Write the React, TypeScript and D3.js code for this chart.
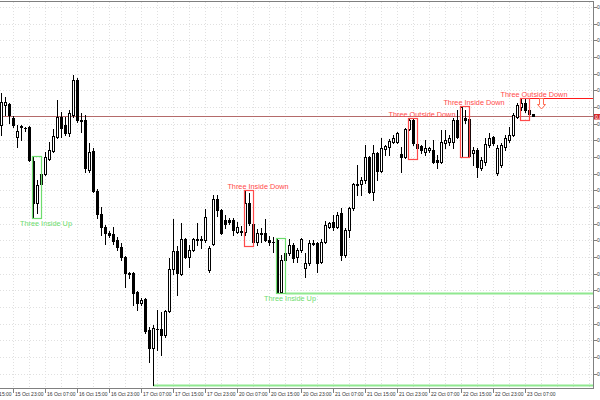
import React from 'react';
import * as d3 from 'd3';

// Hourly candles, 15 Oct 20:00 .. 23 Oct 09:00 (weekend skipped)
const opens = [
0.87791,0.87911,0.87917,0.87833,0.87719,0.87785,0.87773,0.87779,0.87575,0.87323,
0.87437,0.87497,0.87587,0.87635,0.87719,0.87839,0.87791,0.87743,0.87851,0.88061,
0.87821,0.87821,0.87521,0.87635,0.87395,0.87257,0.87179,0.87143,0.87137,0.87101,
0.87059,0.86999,0.86903,0.86903,0.86789,0.86723,0.86747,0.86561,0.86453,0.86567,
0.86567,0.86531,0.86675,0.86927,0.87035,0.86897,0.87107,0.86999,0.87041,0.87107,
0.87107,0.87101,0.86921,0.87077,0.87347,0.87281,0.87221,0.87221,0.87221,0.87149,
0.87149,0.87151,0.87323,0.87197,0.87091,0.87143,0.87145,0.87101,0.87091,0.87101,
0.86789,0.86981,0.87023,0.87071,0.86999,0.87041,0.86933,0.86963,0.87083,0.87083,
0.86969,0.87089,0.87179,0.87209,0.87179,0.87263,0.87011,0.87161,0.87293,0.87437,
0.87437,0.87461,0.87599,0.87389,0.87623,0.87515,0.87647,0.87659,0.87689,0.87689,
0.87617,0.87599,0.87767,0.87821,0.87677,0.87665,0.87629,0.87641,0.87641,0.87581,
0.87569,0.87683,0.87689,0.87689,0.87821,0.87599,0.87833,0.87827,0.87623,0.87641,
0.87533,0.87569,0.87671,0.87719,0.87503,0.87551,0.87659,0.87701,0.87731,0.87839,
0.87901,0.87923,0.87881,0.87855];
const highs = [
0.87983,0.87959,0.87923,0.87845,0.87791,0.87791,0.87779,0.87785,0.87605,0.87461,
0.87521,0.87629,0.87689,0.87767,0.87941,0.87869,0.87839,0.87881,0.88091,0.88073,
0.87863,0.87851,0.87683,0.87653,0.87407,0.87299,0.87191,0.87155,0.87179,0.87119,
0.87083,0.87005,0.86909,0.86909,0.86795,0.86753,0.86753,0.86579,0.86591,0.86681,
0.86669,0.86681,0.86993,0.87227,0.87065,0.87203,0.87113,0.87071,0.87113,0.87203,
0.87125,0.87287,0.87065,0.87371,0.87371,0.87287,0.87251,0.87233,0.87233,0.87209,
0.87185,0.87401,0.87383,0.87205,0.87165,0.87173,0.87227,0.87125,0.87121,0.87111,
0.87011,0.87041,0.87107,0.87083,0.87053,0.87113,0.87023,0.87101,0.87101,0.87089,
0.87107,0.87215,0.87209,0.87251,0.87269,0.87293,0.87173,0.87299,0.87443,0.87551,
0.87479,0.87671,0.87605,0.87671,0.87629,0.87713,0.87671,0.87707,0.87731,0.87749,
0.87659,0.87773,0.87833,0.87833,0.87683,0.87671,0.87701,0.87659,0.87701,0.87611,
0.87761,0.87761,0.87731,0.87833,0.87881,0.87905,0.87881,0.87833,0.87659,0.87653,
0.87599,0.87713,0.87743,0.87725,0.87671,0.87683,0.87731,0.87779,0.87863,0.87923,
0.87947,0.87951,0.87891,0.87857];
const lows = [
0.87731,0.87851,0.87803,0.87779,0.87659,0.87701,0.87755,0.87575,0.87233,0.87263,
0.87401,0.87491,0.87581,0.87629,0.87713,0.87719,0.87731,0.87725,0.87839,0.87809,
0.87749,0.87509,0.87509,0.87389,0.87233,0.87131,0.87077,0.87119,0.87077,0.87041,
0.86981,0.86819,0.86873,0.86711,0.86681,0.86711,0.86543,0.86369,0.86231,0.86441,
0.86411,0.86519,0.86669,0.86897,0.86771,0.86891,0.86993,0.86939,0.87035,0.87071,
0.87053,0.87089,0.86909,0.87071,0.87245,0.87137,0.87173,0.87197,0.87131,0.87143,
0.87131,0.87131,0.87191,0.87065,0.87071,0.87091,0.87097,0.87071,0.87031,0.86781,
0.86783,0.86969,0.87011,0.86969,0.86969,0.87029,0.86879,0.86951,0.87071,0.86909,
0.86963,0.87083,0.87173,0.87161,0.87173,0.86981,0.86999,0.87119,0.87281,0.87371,
0.87371,0.87443,0.87383,0.87341,0.87461,0.87509,0.87611,0.87611,0.87683,0.87683,
0.87509,0.87593,0.87761,0.87671,0.87587,0.87623,0.87611,0.87629,0.87563,0.87533,
0.87563,0.87653,0.87671,0.87653,0.87713,0.87599,0.87803,0.87599,0.87551,0.87479,
0.87521,0.87551,0.87659,0.87671,0.87491,0.87539,0.87641,0.87689,0.87725,0.87833,
0.87881,0.87871,0.87821,0.87845];
const closes = [
0.87929,0.87929,0.87851,0.87791,0.87755,0.87779,0.87771,0.87581,0.87323,0.87431,
0.87497,0.87599,0.87641,0.87725,0.87839,0.87773,0.87743,0.87863,0.88061,0.87821,
0.87815,0.87533,0.87629,0.87395,0.87257,0.87179,0.87143,0.87131,0.87095,0.87059,
0.86999,0.86903,0.86900,0.86783,0.86723,0.86741,0.86555,0.86453,0.86573,0.86570,
0.86531,0.86675,0.86927,0.87035,0.86903,0.87107,0.86999,0.87041,0.87107,0.87104,
0.87101,0.87239,0.87053,0.87347,0.87281,0.87143,0.87197,0.87209,0.87161,0.87179,
0.87155,0.87321,0.87203,0.87091,0.87141,0.87137,0.87101,0.87091,0.87089,0.86783,
0.86981,0.87023,0.87071,0.86993,0.87041,0.87107,0.86963,0.87083,0.87080,0.86963,
0.87089,0.87191,0.87203,0.87179,0.87251,0.87011,0.87161,0.87293,0.87437,0.87434,
0.87461,0.87599,0.87389,0.87623,0.87515,0.87653,0.87665,0.87695,0.87713,0.87743,
0.87599,0.87767,0.87821,0.87683,0.87653,0.87641,0.87653,0.87653,0.87569,0.87569,
0.87689,0.87701,0.87713,0.87821,0.87719,0.87899,0.87821,0.87605,0.87641,0.87539,
0.87581,0.87677,0.87713,0.87683,0.87653,0.87671,0.87713,0.87731,0.87851,0.87911,
0.87923,0.87881,0.87855,0.87847];

// time-axis labels, every 8 bars starting at bar -5
const timeLabels = [
'15 Oct 15:00','15 Oct 23:00','16 Oct 07:00','16 Oct 15:00','16 Oct 23:00',
'17 Oct 07:00','17 Oct 15:00','17 Oct 23:00','20 Oct 07:00','20 Oct 15:00',
'20 Oct 23:00','21 Oct 07:00','21 Oct 15:00','21 Oct 23:00','22 Oct 07:00',
'22 Oct 15:00','22 Oct 23:00','23 Oct 07:00'];
const firstLabelBar = -5;
const labelStep = 8;

// price axis ticks
const priceTicks = d3.range(0, 23).map(k => +(0.885 - k * 0.001).toFixed(4));

// detected patterns: first bar index, name, direction
const patternStarts = [8, 61, 69, 102, 115, 130];
const patternNames = ['Three Inside Up','Three Inside Down','Three Inside Up','Three Outside Down','Three Inside Down','Three Outside Down'];
const patternBull = [true, false, true, false, false, false];

const GREEN = '#6ddc6d';
const GREEN_LINE = '#90e890';
const RED = '#ff4a4a';

export default function App() {
  const W = 600, H = 400;
  const n = closes.length;
  const x = d3.scaleLinear().domain([0, n - 1]).range([1.5, 1.5 + 4 * (n - 1)]);
  const y = d3.scaleLinear().domain([0.885, 0.863]).range([6.9, 373.57]);
  const axisX = 593.5, axisY = 388.5;
  const px = (v: number) => Math.round(y(v));

  const vgrid = d3.range(-1, 150, 4).filter(i => x(i) < axisX);
  const boxes = patternStarts.map((s, k) => {
    const idx = [s, s + 1, s + 2];
    const top = d3.max(idx, i => highs[i]) as number;
    const bot = d3.min(idx, i => lows[i]) as number;
    return { s, top, bot, name: patternNames[k], bull: patternBull[k] };
  });
  const lastBox = boxes[boxes.length - 1];
  const upBox2 = boxes[2];
  const bid = closes[n - 1];
  const lowBar = d3.minIndex(lows);

  const arrowX = x(n + 1);
  const arrowTop = px(lastBox.top) + 0.5;

  return (
    <svg width={W} height={H} style={{ position: 'absolute', left: 0, top: 0, background: '#fff' }}
      fontFamily="'Liberation Sans', Arial, sans-serif">
      <defs>
        <clipPath id="plotclip"><rect x={0} y={0} width={W} height={H} /></clipPath>
      </defs>
      <rect width={W} height={H} fill="#fff" />
      {/* grid */}
      <g stroke="#e0e0e0" strokeDasharray="1,2" shapeRendering="crispEdges">
        {vgrid.map(i => <line key={'v' + i} x1={Math.floor(x(i)) + 0.5} x2={Math.floor(x(i)) + 0.5} y1={2} y2={axisY} />)}
        {priceTicks.map(p => <line key={'h' + p} x1={0} x2={axisX} y1={px(p) + 0.5} y2={px(p) + 0.5} />)}
      </g>
      {/* bid line */}
      <line x1={0} x2={axisX} y1={px(bid) + 0.5} y2={px(bid) + 0.5} stroke="#b46a6a" strokeWidth={1} />
      {/* level lines */}
      <line x1={x(lowBar) - 0.5} x2={axisX} y1={px(lows[lowBar]) + 0.5} y2={px(lows[lowBar]) + 0.5} stroke={GREEN_LINE} strokeWidth={2} />
      <line x1={x(upBox2.s + 2)} x2={axisX} y1={px(upBox2.bot) + 0.5} y2={px(upBox2.bot) + 0.5} stroke={GREEN_LINE} strokeWidth={2} />
      <line x1={x(lastBox.s) - 1} x2={axisX} y1={px(lastBox.top) + 0.5} y2={px(lastBox.top) + 0.5} stroke="#ff1a1a" strokeWidth={1.2} />
      {/* candles */}
      <g shapeRendering="crispEdges">
        {closes.map((c, i) => {
          const o = opens[i];
          const cx = x(i);
          const r0 = px(Math.max(o, c));
          const r1 = px(Math.min(o, c));
          const bull = c >= o;
          return (
            <g key={i}>
              <line x1={cx} x2={cx} y1={px(highs[i])} y2={px(lows[i]) + 1} stroke="#000" />
              {r1 - r0 < 1
                ? <line x1={cx - 1.5} x2={cx + 1.5} y1={r0 + 0.5} y2={r0 + 0.5} stroke="#000" />
                : <rect x={cx - 1} y={r0 + 0.5} width={2} height={r1 - r0} fill={bull ? '#fff' : '#000'} stroke="#000" />}
            </g>
          );
        })}
      </g>
      {/* pattern boxes and labels */}
      {boxes.map((b, k) => {
        const x0 = x(b.s) - 1, x1 = x(b.s + 2);
        const yt = px(b.top) + 0.5, yb = px(b.bot) + 0.5;
        const col = b.bull ? GREEN : RED;
        return (
          <g key={'p' + k}>
            <rect x={x0} y={yt} width={x1 - x0} height={yb - yt} fill="none" stroke={col} strokeWidth={1.2} />
            <text x={(x0 + x1) / 2 + 9} y={b.bull ? yb + 7.5 : yt - 1.6} fontSize={7.3} fill={col} textAnchor="middle">{b.name}</text>
          </g>
        );
      })}
      {/* arrow */}
      <path d={`M${arrowX - 2},${arrowTop} H${arrowX + 2} V${arrowTop + 6} H${arrowX + 4} L${arrowX},${arrowTop + 10.5} L${arrowX - 4},${arrowTop + 6} H${arrowX - 2} Z`}
        fill="#fff" stroke="#ff6a50" strokeWidth={1} />
      {/* frame / axes */}
      <g stroke="#808080" shapeRendering="crispEdges">
        <line x1={0} x2={axisX} y1={1.5} y2={1.5} />
        <line x1={0} x2={axisX} y1={axisY} y2={axisY} />
        <line x1={axisX} x2={axisX} y1={1} y2={axisY} />
        {priceTicks.map(p => <line key={'t' + p} x1={axisX} x2={axisX + 3} y1={px(p) + 0.5} y2={px(p) + 0.5} />)}
        {timeLabels.map((t, k) => {
          const xx = Math.floor(x(firstLabelBar + k * labelStep)) + 0.5;
          return <line key={'xt' + k} x1={xx} x2={xx} y1={axisY} y2={axisY + 4} />;
        })}
      </g>
      <g fontSize={5} fill="#333" clipPath="url(#plotclip)">
        {priceTicks.map(p => <text key={'pl' + p} x={axisX + 3.5} y={px(p) + 2}>{p.toFixed(4)}</text>)}
        {timeLabels.map((t, k) => (
          <text key={'xl' + k} x={x(firstLabelBar + k * labelStep) + 1.5} y={396}>{t}</text>
        ))}
      </g>
      {/* bid label */}
      <rect x={axisX + 0.5} y={px(bid) - 2} width={7} height={5.5} fill="#d42a2a" />
      <text x={axisX + 1.5} y={px(bid) + 2.5} fontSize={5} fill="#fff" clipPath="url(#plotclip)">{bid.toFixed(5)}</text>
    </svg>
  );
}
